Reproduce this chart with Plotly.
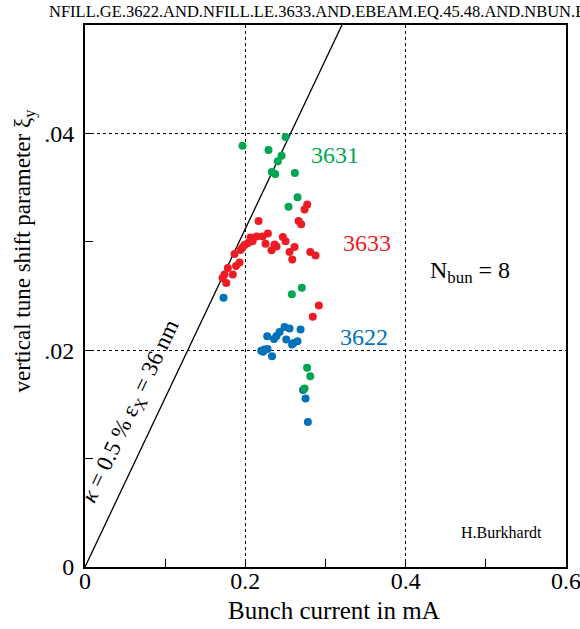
import plotly.graph_objects as go

# Bunch current (mA) and vertical tune shift for each fill
fill_3631_x = [0.1965, 0.2289, 0.2502, 0.2452, 0.2405, 0.2331, 0.2373, 0.2618, 0.2651, 0.2539,
               0.2705, 0.2580, 0.2770, 0.2810, 0.2739]
fill_3631_y = [0.03887, 0.03847, 0.03967, 0.03794, 0.03742, 0.03644, 0.03626, 0.03635, 0.03410, 0.03324,
               0.02575, 0.02516, 0.01838, 0.01760, 0.01647]

fill_3633_x = [0.2772, 0.2739, 0.2165, 0.2664, 0.2697, 0.2281, 0.2215, 0.2140, 0.2065, 0.2090,
               0.2034, 0.1990, 0.1965, 0.1940, 0.2252, 0.2468, 0.2502, 0.2364, 0.2389, 0.2327,
               0.2614, 0.2552, 0.2585, 0.2810, 0.2876, 0.1865, 0.1928, 0.1884, 0.1782, 0.1844,
               0.1740, 0.1716, 0.1762, 0.2917, 0.2842]
fill_3633_y = [0.03343, 0.03297, 0.03191, 0.03191, 0.03163, 0.03076, 0.03048, 0.03048, 0.03039, 0.03006,
               0.02988, 0.02970, 0.02947, 0.02924, 0.02983, 0.03045, 0.03005, 0.02974, 0.02956, 0.02922,
               0.02953, 0.02907, 0.02836, 0.02907, 0.02873, 0.02888, 0.02808, 0.02776, 0.02759, 0.02698,
               0.02698, 0.02665, 0.02621, 0.02412, 0.02308]

fill_3622_x = [0.1728, 0.2273, 0.2489, 0.2551, 0.2689, 0.2427, 0.2389, 0.2358, 0.2510, 0.2651,
               0.2601, 0.2583, 0.2198, 0.2240, 0.2277, 0.2221, 0.2333, 0.2720, 0.2751, 0.2780]
fill_3622_y = [0.02483, 0.02129, 0.02214, 0.02200, 0.02191, 0.02168, 0.02131, 0.02103, 0.02099, 0.02083,
               0.02066, 0.02053, 0.01994, 0.02006, 0.02011, 0.01985, 0.01945, 0.01633, 0.01555, 0.01338]

# beam-beam limit line: kappa = 0.5 %, eps_x = 36 nm
limit_slope = 0.156
limit_x = [0.0, 0.36]
limit_y = [limit_slope * v for v in limit_x]

x_tickvals = [0, 0.2, 0.4, 0.6]
x_ticktext = ["0", "0.2", "0.4", "0.6"]
y_tickvals = [0, 0.02, 0.04]
y_ticktext = ["0", ".02", ".04"]

GREEN = "#00a651"
RED = "#ed1c24"
BLUE = "#0072bc"
SERIF = "Liberation Serif"

fig = go.Figure()
fig.add_trace(go.Scatter(x=limit_x, y=limit_y, mode="lines",
                         line=dict(color="black", width=1.3), showlegend=False))
for xs, ys, col in [(fill_3622_x, fill_3622_y, BLUE),
                    (fill_3633_x, fill_3633_y, RED),
                    (fill_3631_x, fill_3631_y, GREEN)]:
    fig.add_trace(go.Scatter(x=xs, y=ys, mode="markers",
                             marker=dict(color=col, size=8, line=dict(width=0)),
                             showlegend=False))

anns = [
    dict(text="3631", x=0.312, y=0.0380, font=dict(family=SERIF, color=GREEN, size=24)),
    dict(text="3633", x=0.3518, y=0.0299, font=dict(family=SERIF, color=RED, size=24)),
    dict(text="3622", x=0.348, y=0.0212, font=dict(family=SERIF, color=BLUE, size=24)),
    dict(text="N<sub>bun</sub> = 8", x=0.48, y=0.0272, font=dict(family=SERIF, color="black", size=24)),
    dict(text="H.Burkhardt", x=0.52, y=0.00316, font=dict(family=SERIF, color="black", size=16)),
    dict(text="<i>κ</i> = 0.5 % ε<sub>X</sub> = 36 nm", x=0.0575, y=0.0143, textangle=-64.7,
         font=dict(family=SERIF, color="black", size=23)),
]
for a in anns:
    fig.add_annotation(xref="x", yref="y", showarrow=False, xanchor="center", yanchor="middle", **a)

fig.add_annotation(xref="paper", yref="paper", x=-0.079, y=1.024, xanchor="left", yanchor="middle",
                   showarrow=False, text="NFILL.GE.3622.AND.NFILL.LE.3633.AND.EBEAM.EQ.45.48.AND.NBUN.EQ.8",
                   font=dict(family=SERIF, size=16.5, color="black"))
fig.add_annotation(xref="paper", yref="paper", x=-0.126, y=0.583, xanchor="center", yanchor="middle",
                   showarrow=False, textangle=-90, text="vertical tune shift parameter ξ<sub>y</sub>",
                   font=dict(family=SERIF, size=23, color="black"))
fig.add_annotation(xref="paper", yref="paper", x=0.5187, y=-0.0795, xanchor="center", yanchor="middle",
                   showarrow=False, text="Bunch current in mA",
                   font=dict(family=SERIF, size=25, color="black"))

axis_common = dict(showline=True, linecolor="black", linewidth=2, mirror=True,
                   ticks="inside", ticklen=8, tickwidth=1, tickcolor="black",
                   showgrid=True, gridcolor="black", gridwidth=1, griddash="dot",
                   zeroline=False, ticklabeloverflow="allow", automargin=False,
                   tickfont=dict(family=SERIF, size=24, color="black"))

fig.update_xaxes(range=[0, 0.6], tickvals=x_tickvals, ticktext=x_ticktext,
                 minor=dict(dtick=0.1, ticks="inside", ticklen=8, tickcolor="black", showgrid=False),
                 ticklabelstandoff=-9, **axis_common)
fig.update_yaxes(range=[0, 0.05], tickvals=y_tickvals, ticktext=y_ticktext,
                 minor=dict(dtick=0.01, ticks="inside", ticklen=8, tickcolor="black", showgrid=False),
                 ticklabelstandoff=4, **axis_common)

fig.update_layout(width=580, height=629, margin=dict(l=85, r=14, t=25, b=62, autoexpand=False),
                  paper_bgcolor="white", plot_bgcolor="white",
                  font=dict(family=SERIF, color="black"))

fig.write_html("out.html")
